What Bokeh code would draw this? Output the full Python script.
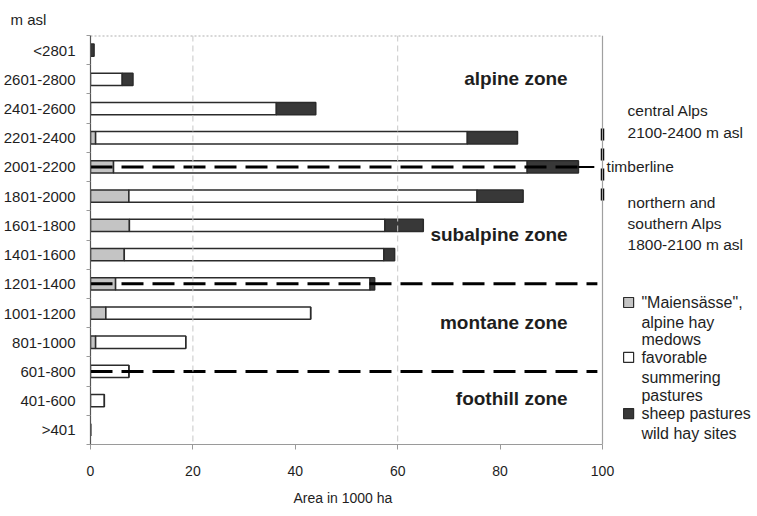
from bokeh.plotting import figure
from bokeh.models import Range1d, FixedTicker, ColumnDataSource, Label, Span, Title
from bokeh.embed import file_html
from bokeh.resources import INLINE

# ---- data ----
categories = ["<2801", "2601-2800", "2401-2600", "2201-2400", "2001-2200", "1801-2000",
              "1601-1800", "1401-1600", "1201-1400", "1001-1200", "801-1000", "601-800",
              "401-600", ">401"]
maiensaesse = [0, 0, 0, 1.0, 4.5, 7.5, 7.6, 6.6, 4.9, 3.0, 1.0, 0, 0, 0]
favorable = [0, 6.2, 36.3, 72.6, 80.8, 68.0, 49.9, 50.7, 49.7, 40.0, 17.6, 7.5, 2.7, 0]
sheep = [0.7, 2.1, 7.7, 9.8, 10.0, 9.0, 7.5, 2.1, 0.9, 0, 0, 0, 0, 0]
x_ticks = [0, 20, 40, 60, 80, 100]
legend_labels = [['"Maiensässe",', 'alpine hay', 'medows'],
                 ['favorable', 'summering', 'pastures'],
                 ['sheep pastures', 'wild hay sites']]
zones = ["alpine zone", "subalpine zone", "montane zone", "foothill zone"]

FONT = "Liberation Sans"
TXT = "#1e1e1e"
GREY = "#c4c4c4"
WHITE = "#ffffff"
DARK = "#383838"
EDGE = "#2b2b2b"

n = len(categories)
ypos = [n - 0.5 - i for i in range(n)]
src = ColumnDataSource(dict(y=ypos, cat=categories, m=maiensaesse, f=favorable, s=sheep))

W, H = 757, 516
p = figure(width=W, height=H, output_backend="svg", toolbar_location=None,
           x_range=Range1d(0, 667 / 5.12), y_range=Range1d(0, n),
           min_border_left=90, min_border_right=0, min_border_top=35, min_border_bottom=72)
p.outline_line_color = None
p.xgrid.visible = False
p.ygrid.visible = False
p.background_fill_color = "white"
p.border_fill_color = "white"

# grid lines (only 20 and 60 visible in reference)
for g in [20, 60]:
    p.add_layout(Span(location=g, dimension="height", line_color="#c8c8c8",
                      line_dash="6 4", line_width=1))
# plot-area border (top and right)
p.add_layout(Span(location=100, dimension="height", line_color="#a0a0a0", line_width=1.2))
p.segment(x0=[0], y0=[n], x1=[100], y1=[n], line_color="#b0b0b0", line_width=2, line_dash="2 2")

# stacked bars
p.hbar_stack(["m", "f", "s"], y="y", height=0.42, source=src,
             fill_color=[GREY, WHITE, DARK], line_color=EDGE, line_width=1.5)

# zone boundary dashed lines
y2001 = ypos[categories.index("2001-2200")]
y1201 = ypos[categories.index("1201-1400")]
y601 = ypos[categories.index("601-800")]
p.line([0, 95.3], [y2001, y2001], line_color="black", line_width=3, line_dash="22 9")
p.line([95.3, 98.4], [y2001, y2001], line_color="black", line_width=2)
p.line([0, 99.0], [y1201, y1201], line_color="black", line_width=3, line_dash="22 9")
p.line([0, 99.0], [y601, y601], line_color="black", line_width=3, line_dash="22 9")
p.line([100, 100], [10.82, 8.35], line_color="black", line_width=3.5, line_dash="12 8")

# zone labels
zone_y = [12.53, 7.19, 4.18, 1.57]
for t, yy in zip(zones, zone_y):
    p.add_layout(Label(x=93.2, y=yy, text=t, text_align="right", text_baseline="middle",
                       text_font=FONT, text_font_style="bold", text_font_size="19px",
                       text_color=TXT))

# right side notes
notes = [("central Alps", 104.9, 11.43), ("2100-2400 m  asl", 104.9, 10.68),
         ("timberline", 100.8, 9.52), ("northern  and", 104.9, 8.28),
         ("southern Alps", 104.9, 7.56), ("1800-2100 m asl", 104.9, 6.85)]
for t, xx, yy in notes:
    p.add_layout(Label(x=xx, y=yy, text=t, text_align="left", text_baseline="middle",
                       text_font=FONT, text_font_size="15.5px", text_color=TXT))

# legend (manual)
leg_rows = [[4.86, 4.18, 3.59], [2.98, 2.29, 1.68], [1.06, 0.38]]
leg_colors = [GREY, WHITE, DARK]
for lines, rows, c in zip(legend_labels, leg_rows, leg_colors):
    p.scatter([105.1], [rows[0]], marker="square", size=10, fill_color=c,
              line_color=EDGE, line_width=1.2)
    for t, yy in zip(lines, rows):
        p.add_layout(Label(x=107.6, y=yy, text=t, text_align="left", text_baseline="middle",
                           text_font=FONT, text_font_size="16px", text_color=TXT))

# axes
xa = p.xaxis[0]
xa.bounds = (0, 100)
xa.ticker = FixedTicker(ticks=x_ticks)
xa.axis_line_color = "#9a9a9a"
xa.major_tick_line_color = "#9a9a9a"
xa.major_tick_out = 5
xa.major_tick_in = 0
xa.minor_tick_line_color = None
xa.major_label_text_font = FONT
xa.major_label_text_font_size = "14px"
xa.major_label_text_color = TXT
xa.major_label_standoff = 16

ya = p.yaxis[0]
ya.bounds = (0, n)
ya.ticker = FixedTicker(ticks=ypos, minor_ticks=list(range(n + 1)))
ya.major_label_overrides = {yy: c for yy, c in zip(ypos, categories)}
ya.axis_line_color = "#555555"
ya.axis_line_width = 1.2
ya.major_tick_line_color = None
ya.minor_tick_line_color = "#9a9a9a"
ya.minor_tick_out = 4
ya.minor_tick_in = 0
ya.major_label_text_font = FONT
ya.major_label_text_font_size = "15px"
ya.major_label_text_color = TXT
ya.major_label_standoff = 9

# axis titles
p.add_layout(Title(text="Area in 1000 ha", align="left", offset=203,
                   text_font=FONT, text_font_size="14px", text_font_style="normal",
                   text_color=TXT, standoff=19), "below")
p.add_layout(Title(text="m asl", align="left", offset=-80,
                   text_font=FONT, text_font_size="15px", text_font_style="normal",
                   text_color=TXT, standoff=15), "above")

open("out.html", "w").write(file_html(p, INLINE))
